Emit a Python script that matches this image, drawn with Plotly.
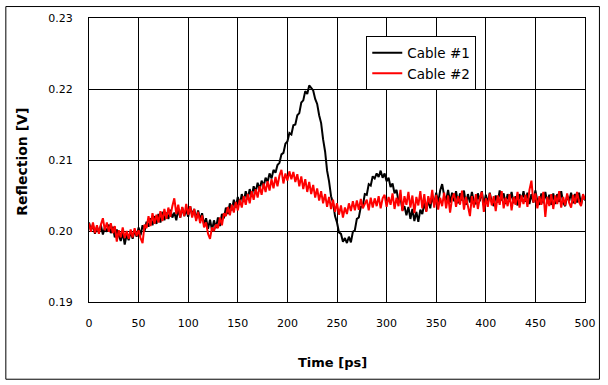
import plotly.graph_objects as go

# Time axis (ps), sampled every 2 ps
time_ps = list(range(0, 501, 2))

cable1 = [
    0.2012, 0.2001, 0.2009, 0.1996, 0.2006,
    0.1998, 0.2008, 0.1995, 0.2005, 0.1999,
    0.2009, 0.1997, 0.2006, 0.1991, 0.2002,
    0.1993, 0.1986, 0.1998, 0.1981, 0.1995,
    0.1987, 0.1999, 0.1989, 0.2001, 0.1992,
    0.2005, 0.1994, 0.2008, 0.2000, 0.2013,
    0.2006, 0.2018, 0.2008, 0.2021, 0.2010,
    0.2024, 0.2012, 0.2027, 0.2015, 0.2026,
    0.2017, 0.2030, 0.2019, 0.2026, 0.2015,
    0.2031, 0.2019, 0.2033, 0.2021, 0.2030,
    0.2020, 0.2035, 0.2022, 0.2031, 0.2017,
    0.2029, 0.2016, 0.2025, 0.2009, 0.2018,
    0.2003, 0.2016, 0.2001, 0.2015, 0.2004,
    0.2019, 0.2007, 0.2024, 0.2018, 0.2033,
    0.2024, 0.2039, 0.2029, 0.2044, 0.2033,
    0.2048, 0.2037, 0.2052, 0.2041, 0.2056,
    0.2045, 0.2059, 0.2048, 0.2063, 0.2055,
    0.2068, 0.2058, 0.2071, 0.2063, 0.2075,
    0.2069, 0.2081, 0.2074, 0.2086, 0.2082,
    0.2093, 0.2096, 0.2108, 0.2110, 0.2123,
    0.2126, 0.2138, 0.2136, 0.2149, 0.2150,
    0.2163, 0.2166, 0.2181, 0.2184, 0.2197,
    0.2193, 0.2205, 0.2201, 0.2198, 0.2186,
    0.2179, 0.2163, 0.2152, 0.2129, 0.2112,
    0.2085, 0.2070, 0.2049, 0.2040, 0.2021,
    0.2012, 0.1998, 0.1996, 0.1985, 0.1990,
    0.1983, 0.1992, 0.1984, 0.1999, 0.2001,
    0.2017, 0.2019, 0.2034, 0.2035, 0.2052,
    0.2051, 0.2066, 0.2064, 0.2077, 0.2074,
    0.2081, 0.2076, 0.2085, 0.2075, 0.2081,
    0.2070, 0.2075, 0.2062, 0.2067, 0.2053,
    0.2058, 0.2042, 0.2047, 0.2029, 0.2035,
    0.2022, 0.2034, 0.2017, 0.2031, 0.2014,
    0.2027, 0.2013, 0.2030, 0.2024, 0.2039,
    0.2028, 0.2044, 0.2032, 0.2049, 0.2037,
    0.2054, 0.2040, 0.2057, 0.2066, 0.2050,
    0.2043, 0.2058, 0.2040, 0.2054, 0.2042,
    0.2056, 0.2039, 0.2053, 0.2043, 0.2057,
    0.2037, 0.2052, 0.2040, 0.2055, 0.2041,
    0.2038, 0.2053, 0.2042, 0.2056, 0.2036,
    0.2051, 0.2039, 0.2054, 0.2041, 0.2035,
    0.2050, 0.2040, 0.2057, 0.2043, 0.2053,
    0.2038, 0.2052, 0.2041, 0.2055, 0.2039,
    0.2049, 0.2036, 0.2052, 0.2042, 0.2056,
    0.2041, 0.2054, 0.2038, 0.2052, 0.2040,
    0.2057, 0.2042, 0.2037, 0.2053, 0.2039,
    0.2055, 0.2040, 0.2051, 0.2037, 0.2053,
    0.2038, 0.2052, 0.2041, 0.2056, 0.2040,
    0.2035, 0.2050, 0.2042, 0.2054, 0.2039,
    0.2052, 0.2040, 0.2054, 0.2037, 0.2050,
    0.2043,
]

cable2 = [
    0.2011, 0.1999, 0.2012, 0.1997, 0.2008,
    0.1996, 0.2009, 0.2018, 0.2001, 0.2012,
    0.1999, 0.2011, 0.1997, 0.2007, 0.1985,
    0.2001, 0.1991, 0.2005, 0.1990, 0.2000,
    0.1989, 0.2002, 0.1991, 0.2004, 0.1993,
    0.2001, 0.1990, 0.1983, 0.2009, 0.2004,
    0.2021, 0.2007, 0.2025, 0.2010, 0.2023,
    0.2012, 0.2028, 0.2014, 0.2031, 0.2017,
    0.2033, 0.2020, 0.2035, 0.2046, 0.2024,
    0.2037, 0.2019, 0.2034, 0.2021, 0.2038,
    0.2023, 0.2035, 0.2019, 0.2031, 0.2014,
    0.2027, 0.2011, 0.2022, 0.2005, 0.2012,
    0.1996, 0.1989, 0.2005, 0.2000, 0.2009,
    0.2004, 0.2019, 0.2008, 0.2025, 0.2021,
    0.2034, 0.2022, 0.2037, 0.2026, 0.2041,
    0.2029, 0.2044, 0.2033, 0.2049, 0.2037,
    0.2052, 0.2039, 0.2056, 0.2044, 0.2059,
    0.2047, 0.2063, 0.2051, 0.2067, 0.2055,
    0.2070, 0.2057, 0.2073, 0.2060, 0.2076,
    0.2063, 0.2078, 0.2086, 0.2067, 0.2081,
    0.2071, 0.2084, 0.2073, 0.2083, 0.2069,
    0.2080, 0.2063, 0.2077, 0.2059, 0.2073,
    0.2055, 0.2069, 0.2052, 0.2065, 0.2047,
    0.2060, 0.2043, 0.2056, 0.2039, 0.2052,
    0.2034, 0.2048, 0.2031, 0.2044, 0.2027,
    0.2039, 0.2023, 0.2036, 0.2019, 0.2033,
    0.2024, 0.2039, 0.2028, 0.2042, 0.2029,
    0.2043, 0.2030, 0.2045, 0.2032, 0.2038,
    0.2044, 0.2029, 0.2047, 0.2033, 0.2046,
    0.2035, 0.2049, 0.2032, 0.2046, 0.2051,
    0.2034, 0.2048, 0.2037, 0.2053, 0.2031,
    0.2047, 0.2035, 0.2058, 0.2028, 0.2049,
    0.2037, 0.2055, 0.2033, 0.2050, 0.2025,
    0.2048, 0.2036, 0.2056, 0.2032, 0.2052,
    0.2027, 0.2049, 0.2038, 0.2058, 0.2033,
    0.2051, 0.2030, 0.2047, 0.2035, 0.2054,
    0.2032, 0.2050, 0.2026, 0.2046, 0.2053,
    0.2034, 0.2049, 0.2037, 0.2057, 0.2030,
    0.2048, 0.2035, 0.2021, 0.2049, 0.2033,
    0.2052, 0.2031, 0.2047, 0.2055, 0.2027,
    0.2046, 0.2034, 0.2053, 0.2036, 0.2049,
    0.2028, 0.2050, 0.2037, 0.2056, 0.2032,
    0.2047, 0.2035, 0.2052, 0.2029, 0.2048,
    0.2037, 0.2055, 0.2033, 0.2050, 0.2038,
    0.2051, 0.2034, 0.2058, 0.2071, 0.2040,
    0.2053, 0.2032, 0.2049, 0.2037, 0.2055,
    0.2020, 0.2048, 0.2035, 0.2052, 0.2031,
    0.2050, 0.2038, 0.2056, 0.2033, 0.2048,
    0.2036, 0.2053, 0.2040, 0.2033, 0.2051,
    0.2038, 0.2055, 0.2041, 0.2035, 0.2052,
    0.2044,
]

x_ticks = [0, 50, 100, 150, 200, 250, 300, 350, 400, 450, 500]
y_ticks = [0.19, 0.20, 0.21, 0.22, 0.23]
y_tick_labels = ["0.19", "0.20", "0.21", "0.22", "0.23"]

FONT = "DejaVu Sans"

fig = go.Figure()
fig.add_trace(go.Scatter(x=time_ps, y=cable1, mode="lines", name="Cable #1",
                         line=dict(color="black", width=2)))
fig.add_trace(go.Scatter(x=time_ps, y=cable2, mode="lines", name="Cable #2",
                         line=dict(color="#ff0000", width=2)))

fig.update_layout(
    width=608, height=385,
    margin=dict(l=89, r=21, t=17, b=83),
    paper_bgcolor="white", plot_bgcolor="white",
    font=dict(family=FONT, size=11, color="black"),
    showlegend=True,
    legend=dict(x=0.559, y=0.935, xanchor="left", yanchor="top",
                bgcolor="white", bordercolor="black", borderwidth=1,
                font=dict(family=FONT, size=13.5, color="black"),
                tracegroupgap=0, itemwidth=30),
    xaxis=dict(range=[0, 500], tickvals=x_ticks, showgrid=True,
               gridcolor="black", gridwidth=1, showline=True, mirror=True,
               linecolor="black", linewidth=1, zeroline=False,
               ticks="outside", ticklen=11, tickcolor="rgba(0,0,0,0)",
               tickfont=dict(family=FONT, size=11, color="black")),
    yaxis=dict(range=[0.19, 0.23], tickvals=y_ticks, ticktext=y_tick_labels,
               showgrid=True, gridcolor="black", gridwidth=1, showline=True,
               mirror=True, linecolor="black", linewidth=1, zeroline=False,
               ticks="outside", ticklen=13, tickcolor="rgba(0,0,0,0)",
               tickfont=dict(family=FONT, size=11, color="black")),
    annotations=[
        dict(text="<b>Reflection [V]</b>", xref="paper", yref="paper",
             x=-0.1345, y=0.495, showarrow=False, textangle=-90,
             font=dict(family=FONT, size=14, color="black"),
             xanchor="center", yanchor="middle"),
        dict(text="<b>Time [ps]</b>", xref="paper", yref="paper",
             x=0.491, y=-0.212, showarrow=False,
             font=dict(family=FONT, size=13, color="black"),
             xanchor="center", yanchor="middle"),
    ],
    shapes=[
        dict(type="rect", xref="paper", yref="paper",
             x0=(5.5 - 89) / 498, x1=(601.5 - 89) / 498,
             y0=(302 - 379.5) / 285, y1=(302 - 5.5) / 285,
             line=dict(color="black", width=1), fillcolor="rgba(0,0,0,0)",
             layer="below"),
    ],
)

fig.write_html("out.html",
               config={"displayModeBar": False},
               post_script="document.body.style.margin='0';document.body.style.overflow='hidden';")
